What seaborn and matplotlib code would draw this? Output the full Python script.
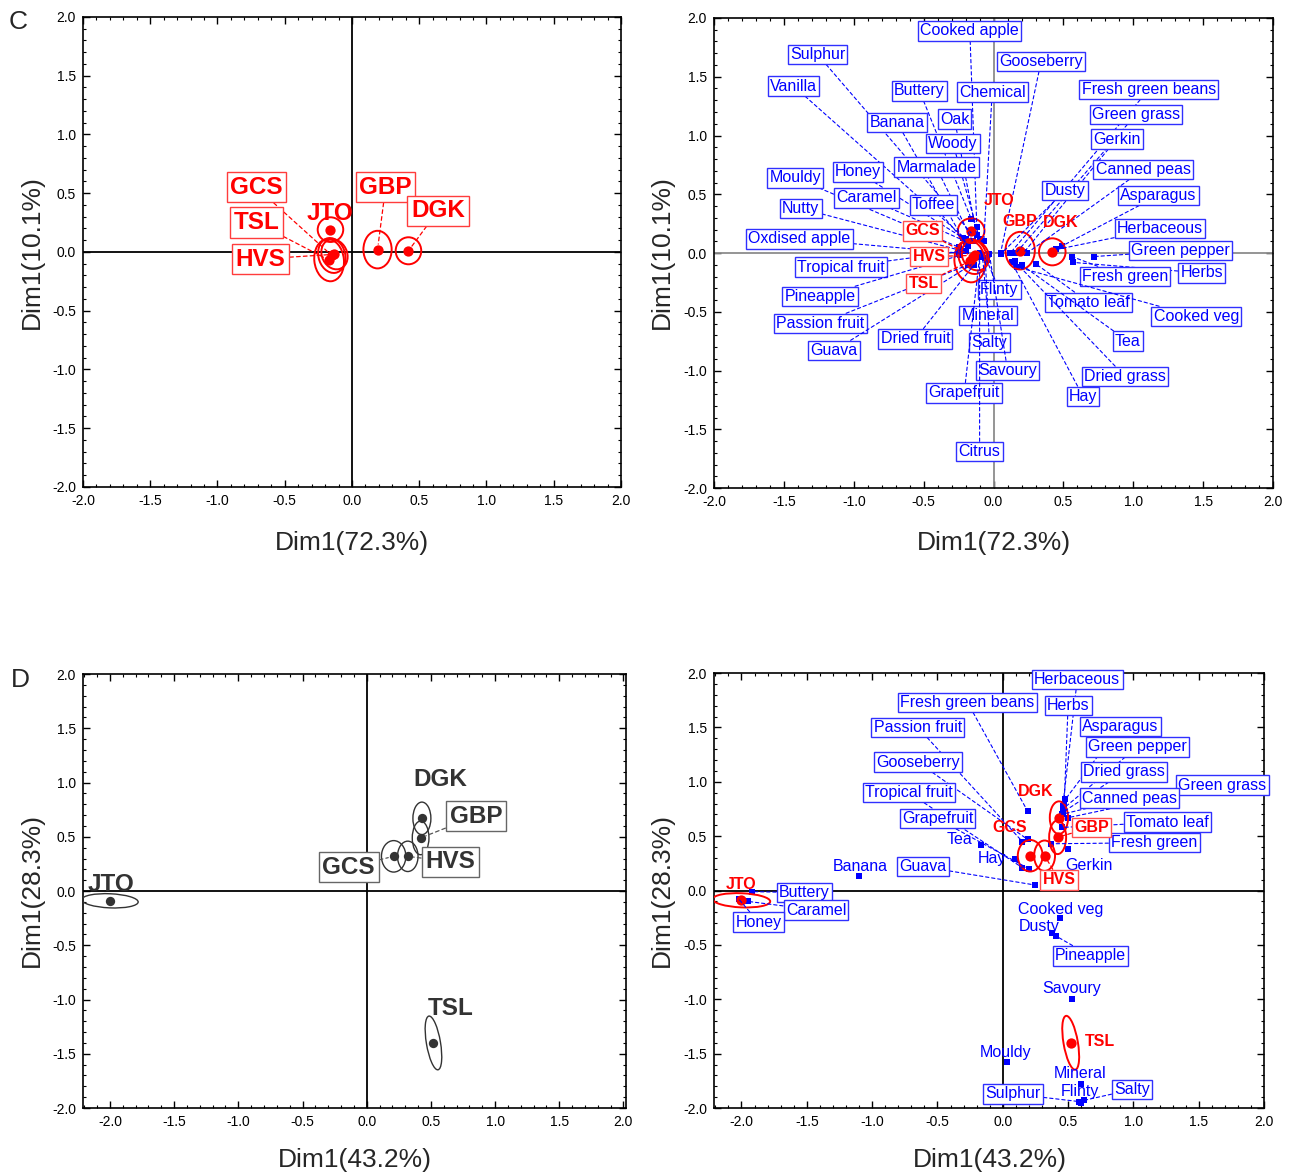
import numpy as np
import pandas as pd
import matplotlib
matplotlib.use("Agg")
import matplotlib.pyplot as plt
from matplotlib.patches import Ellipse
from matplotlib.ticker import MultipleLocator, FormatStrFormatter
import seaborn as sns

# ---------------------------------------------------------------- data
products = ["GCS", "TSL", "HVS", "JTO", "GBP", "DGK"]

# panel C: product scores and confidence ellipses (width, height, angle)
c_prod_x = [-0.15, -0.17, -0.13, -0.16, 0.19, 0.42]
c_prod_y = [-0.03, -0.07, -0.02, 0.19, 0.02, 0.01]
c_ell_w = [0.20, 0.22, 0.19, 0.19, 0.21, 0.19]
c_ell_h = [0.30, 0.36, 0.26, 0.21, 0.32, 0.23]
c_ell_a = [10, 5, 15, 0, 0, 0]

# panel C: attribute scores
c_attr_names = [
    "Cooked apple", "Sulphur", "Gooseberry", "Vanilla", "Buttery", "Chemical",
    "Fresh green beans", "Green grass", "Banana", "Oak", "Gerkin", "Woody",
    "Honey", "Marmalade", "Canned peas", "Mouldy", "Dusty", "Caramel",
    "Asparagus", "Toffee", "Nutty", "Herbaceous", "Oxdised apple",
    "Green pepper", "Tropical fruit", "Herbs", "Fresh green", "Pineapple",
    "Flinty", "Tomato leaf", "Cooked veg", "Passion fruit", "Mineral",
    "Dried fruit", "Salty", "Tea", "Guava", "Savoury", "Dried grass",
    "Grapefruit", "Hay", "Citrus",
]
c_attr_x = [-0.12, -0.16, 0.05, -0.20, -0.16, -0.07, 0.12, 0.16, -0.20, -0.12,
            0.22, -0.10, -0.22, -0.15, 0.24, -0.25, 0.05, -0.20, 0.49, -0.18,
            -0.23, 0.45, -0.25, 0.72, -0.20, 0.57, 0.56, -0.24, -0.05, 0.30,
            0.17, -0.18, -0.08, -0.14, -0.06, 0.20, -0.16, -0.03, 0.15, -0.10,
            0.13, -0.10]
c_attr_y = [0.22, 0.17, 0.00, 0.12, 0.29, 0.10, 0.00, 0.00, 0.08, 0.15,
            0.01, 0.12, 0.13, 0.10, 0.00, 0.05, -0.01, 0.10, 0.06, 0.06,
            0.02, 0.03, 0.00, -0.03, 0.02, -0.08, -0.03, -0.02, -0.06, -0.09,
            -0.12, -0.10, -0.02, -0.10, -0.04, -0.10, -0.10, -0.01, -0.07, -0.03,
            -0.08, 0.00]

# panel D: product scores and confidence ellipses
d_prod_x = [0.21, 0.52, 0.32, -2.00, 0.42, 0.43]
d_prod_y = [0.32, -1.40, 0.32, -0.09, 0.49, 0.67]
d_ell_w = [0.19, 0.11, 0.16, 0.44, 0.13, 0.14]
d_ell_h = [0.29, 0.50, 0.28, 0.13, 0.31, 0.30]
d_ell_a = [0, 8, 0, -3, 0, 0]

# panel D: attribute scores
d_attr_names = [
    "Herbaceous", "Fresh green beans", "Herbs", "Passion fruit", "Asparagus",
    "Green pepper", "Gooseberry", "Dried grass", "Tropical fruit",
    "Green grass", "Canned peas", "Grapefruit", "Tomato leaf", "Fresh green",
    "Tea", "Hay", "Banana", "Guava", "Gerkin", "Buttery", "Caramel", "Honey",
    "Cooked veg", "Dusty", "Pineapple", "Savoury", "Mouldy", "Mineral",
    "Flinty", "Sulphur", "Salty",
]
d_attr_x = [0.46, 0.19, 0.47, 0.15, 0.48, 0.47, 0.19, 0.46, 0.15, 0.50,
            0.45, 0.20, 0.45, 0.37, -0.17, 0.09, -1.10, 0.25, 0.50, -1.92,
            -1.95, -2.02, 0.44, 0.38, 0.41, 0.53, 0.03, 0.60, 0.60, 0.58, 0.62]
d_attr_y = [0.78, 0.73, 0.80, 0.45, 0.84, 0.76, 0.47, 0.72, 0.21, 0.67,
            0.70, 0.20, 0.58, 0.43, 0.42, 0.29, 0.13, 0.05, 0.38, -0.01,
            -0.10, -0.08, -0.25, -0.39, -0.42, -1.00, -1.58, -1.78, -1.95,
            -1.94, -1.93]

# ---------------------------------------------------------------- label layout
c1_labels = {"GCS": (-0.71, 0.55, True), "TSL": (-0.71, 0.25, True),
             "HVS": (-0.68, -0.06, True), "JTO": (-0.16, 0.33, False),
             "GBP": (0.25, 0.55, True), "DGK": (0.64, 0.35, True)}
c2_labels = {"GCS": (-0.51, 0.19, True), "TSL": (-0.50, -0.26, True),
             "HVS": (-0.46, -0.03, True), "JTO": (0.04, 0.45, False),
             "GBP": (0.19, 0.27, False), "DGK": (0.48, 0.26, False)}
d1_labels = {"GCS": (-0.14, 0.22, True), "TSL": (0.65, -1.08, False),
             "HVS": (0.65, 0.27, True), "JTO": (-1.99, 0.06, False),
             "GBP": (0.85, 0.69, True), "DGK": (0.57, 1.03, False)}
d2_labels = {"GCS": (0.05, 0.58, False), "TSL": (0.74, -1.39, False),
             "HVS": (0.43, 0.10, True), "JTO": (-2.00, 0.06, False),
             "GBP": (0.68, 0.58, True), "DGK": (0.25, 0.91, False)}

c_attr_pos = [
    (-0.17, 1.89), (-1.26, 1.69), (0.34, 1.63), (-1.43, 1.42), (-0.53, 1.38),
    (-0.01, 1.37), (1.11, 1.39), (1.02, 1.18), (-0.69, 1.11), (-0.28, 1.14),
    (0.88, 0.97), (-0.29, 0.93), (-0.97, 0.69), (-0.41, 0.73), (1.07, 0.71),
    (-1.42, 0.64), (0.51, 0.53), (-0.91, 0.47), (1.18, 0.49), (-0.43, 0.41),
    (-1.38, 0.38), (1.19, 0.21), (-1.39, 0.12), (1.34, 0.02), (-1.09, -0.12),
    (1.49, -0.17), (0.94, -0.20), (-1.24, -0.37), (0.04, -0.31), (0.68, -0.42),
    (1.45, -0.54), (-1.24, -0.60), (-0.04, -0.53), (-0.56, -0.73),
    (-0.03, -0.76), (0.96, -0.75), (-1.14, -0.83), (0.10, -1.00),
    (0.94, -1.05), (-0.21, -1.19), (0.64, -1.22), (-0.10, -1.69),
]
# (x, y, boxed)
d_attr_pos = [
    (0.57, 1.94, True), (-0.27, 1.73, True), (0.50, 1.70, True),
    (-0.65, 1.50, True), (0.90, 1.51, True), (1.03, 1.32, True),
    (-0.65, 1.18, True), (0.93, 1.09, True), (-0.72, 0.90, True),
    (1.68, 0.97, True), (0.97, 0.85, True), (-0.50, 0.66, True),
    (1.26, 0.63, True), (1.16, 0.44, True), (-0.33, 0.47, False),
    (-0.08, 0.29, False), (-1.09, 0.22, False), (-0.61, 0.22, True),
    (0.66, 0.23, False), (-1.52, -0.02, True), (-1.43, -0.18, True),
    (-1.87, -0.29, True), (0.44, -0.17, False), (0.28, -0.33, False),
    (0.67, -0.60, True), (0.53, -0.90, False), (0.02, -1.49, False),
    (0.59, -1.68, False), (0.59, -1.85, False), (0.08, -1.87, True),
    (0.99, -1.83, True),
]

# ---------------------------------------------------------------- style
sns.set_theme(style="ticks")
NARROW = ["Liberation Sans Narrow", "Liberation Sans", "DejaVu Sans"]
REGULAR = ["Liberation Sans", "DejaVu Sans"]
plt.rcParams["font.family"] = NARROW

RED = "#ff0000"
BLUE = "#0000ff"
DARK = "#333333"
ATTR_FS = 11.5

fig = plt.figure(figsize=(12.95, 11.76), dpi=100)
ax_c1 = fig.add_axes([0.0641, 0.5859, 0.4154, 0.3997])
ax_c2 = fig.add_axes([0.5514, 0.5850, 0.4317, 0.3997])
ax_d1 = fig.add_axes([0.0641, 0.0578, 0.4193, 0.3690])
ax_d2 = fig.add_axes([0.5514, 0.0578, 0.4247, 0.3699])


def style_axes(ax, xlim, zero_color):
    ax.set_xlim(*xlim)
    ax.set_ylim(-2, 2)
    ax.set_xticks(np.arange(-2, 2.01, 0.5))
    ax.set_yticks(np.arange(-2, 2.01, 0.5))
    ax.xaxis.set_minor_locator(MultipleLocator(0.1))
    ax.yaxis.set_minor_locator(MultipleLocator(0.1))
    ax.xaxis.set_major_formatter(FormatStrFormatter("%.1f"))
    ax.yaxis.set_major_formatter(FormatStrFormatter("%.1f"))
    ax.tick_params(which="both", direction="in", top=True, right=True,
                   colors="black", labelsize=10)
    ax.tick_params(which="major", length=5, width=1.0, pad=5)
    ax.tick_params(which="minor", length=2.5, width=0.8)
    ax.axhline(0, color=zero_color, lw=1.3, zorder=1)
    ax.axvline(0, color=zero_color, lw=1.3, zorder=1)
    for sp in ax.spines.values():
        sp.set_visible(True)
        sp.set_color("black")
        sp.set_linewidth(1.2)


def draw_products(ax, xs, ys, ws, hs, angs, color, size, lw):
    df = pd.DataFrame({"x": xs, "y": ys, "product": products})
    sns.scatterplot(data=df, x="x", y="y", ax=ax, color=color, s=size,
                    marker="o", edgecolor=color, linewidth=0, legend=False,
                    zorder=5)
    for x, y, w, h, a in zip(xs, ys, ws, hs, angs):
        ax.add_patch(Ellipse((x, y), w, h, angle=a, fill=False,
                             edgecolor=color, lw=lw, zorder=4))


def product_labels(ax, layout, xs, ys, color, edge, fs, family, line_color):
    for name, x, y in zip(products, xs, ys):
        lx, ly, boxed = layout[name]
        bbox = (dict(boxstyle="square,pad=0.15", fc="white", ec=edge, lw=1.0)
                if boxed else None)
        arrow = (dict(arrowstyle="-", color=line_color, lw=0.9,
                      ls=(0, (3, 2.5)), shrinkA=0, shrinkB=4)
                 if boxed else None)
        ax.annotate(name, xy=(x, y), xytext=(lx, ly), ha="center",
                    va="center", fontsize=fs, fontweight="bold", color=color,
                    family=family, bbox=bbox, arrowprops=arrow, zorder=7)


def attr_points(ax, names, xs, ys):
    df = pd.DataFrame({"x": xs, "y": ys, "attribute": names})
    sns.scatterplot(data=df, x="x", y="y", ax=ax, color=BLUE, s=24,
                    marker="s", linewidth=0, legend=False, zorder=3)


# ---------------------------------------------------------------- panel C left
style_axes(ax_c1, (-2, 2), "black")
draw_products(ax_c1, c_prod_x, c_prod_y, c_ell_w, c_ell_h, c_ell_a, RED, 55, 1.4)
product_labels(ax_c1, c1_labels, c_prod_x, c_prod_y, RED, "#ff3c3c", 17.5,
               REGULAR, RED)

# ---------------------------------------------------------------- panel C right
style_axes(ax_c2, (-2, 2), "#8c8c8c")
attr_points(ax_c2, c_attr_names, c_attr_x, c_attr_y)
for name, x, y, (lx, ly) in zip(c_attr_names, c_attr_x, c_attr_y, c_attr_pos):
    ax_c2.annotate(name, xy=(x, y), xytext=(lx, ly), ha="center", va="center",
                   fontsize=ATTR_FS, color=BLUE,
                   bbox=dict(boxstyle="square,pad=0.14", fc="white",
                             ec="#3030ff", lw=1.0),
                   arrowprops=dict(arrowstyle="-", color=BLUE, lw=0.8,
                                   ls=(0, (3, 2.5)), shrinkA=0, shrinkB=0),
                   zorder=6)
draw_products(ax_c2, c_prod_x, c_prod_y, c_ell_w, c_ell_h, c_ell_a, RED, 55, 1.4)
product_labels(ax_c2, c2_labels, c_prod_x, c_prod_y, RED, "#ff5050", 11.5,
               REGULAR, RED)

# ---------------------------------------------------------------- panel D left
style_axes(ax_d1, (-2.21, 2.02), "black")
draw_products(ax_d1, d_prod_x, d_prod_y, d_ell_w, d_ell_h, d_ell_a, DARK, 45, 1.0)
product_labels(ax_d1, d1_labels, d_prod_x, d_prod_y, DARK, "#666666", 17.5,
               NARROW, "#555555")

# ---------------------------------------------------------------- panel D right
style_axes(ax_d2, (-2.21, 2.0), "black")
attr_points(ax_d2, d_attr_names, d_attr_x, d_attr_y)
for name, x, y, (lx, ly, boxed) in zip(d_attr_names, d_attr_x, d_attr_y,
                                       d_attr_pos):
    if boxed:
        ax_d2.annotate(name, xy=(x, y), xytext=(lx, ly), ha="center",
                       va="center", fontsize=ATTR_FS, color=BLUE,
                       bbox=dict(boxstyle="square,pad=0.14", fc="white",
                                 ec="#3030ff", lw=1.0),
                       arrowprops=dict(arrowstyle="-", color=BLUE, lw=0.8,
                                       ls=(0, (3, 2.5)), shrinkA=0, shrinkB=0),
                       zorder=6, annotation_clip=False)
    else:
        ax_d2.text(lx, ly, name, ha="center", va="center", fontsize=ATTR_FS,
                   color=BLUE, zorder=6)
draw_products(ax_d2, d_prod_x, d_prod_y, d_ell_w, d_ell_h, d_ell_a, RED, 55, 1.4)
product_labels(ax_d2, d2_labels, d_prod_x, d_prod_y, RED, "#ff5050", 11.5,
               REGULAR, RED)

# seaborn names the axes after the data columns; the titles are drawn below
for ax in (ax_c1, ax_c2, ax_d1, ax_d2):
    ax.set_xlabel("")
    ax.set_ylabel("")

# ---------------------------------------------------------------- axis titles
for cx, cy, txt in [(0.2718, 0.5383, "Dim1(72.3%)"),
                    (0.7676, 0.5383, "Dim1(72.3%)"),
                    (0.2743, 0.0136, "Dim1(43.2%)"),
                    (0.7645, 0.0136, "Dim1(43.2%)")]:
    fig.text(cx, cy, txt, ha="center", va="center", fontsize=19)
for cx, cy, txt in [(0.0247, 0.7857, "Dim1(10.1%)"),
                    (0.5112, 0.7857, "Dim1(10.1%)"),
                    (0.0247, 0.2432, "Dim1(28.3%)"),
                    (0.5112, 0.2432, "Dim1(28.3%)")]:
    fig.text(cx, cy, txt, ha="center", va="center", fontsize=19, rotation=90)

fig.text(0.014, 0.981, "C", ha="center", va="center", fontsize=19,
         family=REGULAR)
fig.text(0.016, 0.422, "D", ha="center", va="center", fontsize=19,
         family=REGULAR)

fig.savefig("out.png", dpi=100, facecolor="white")
